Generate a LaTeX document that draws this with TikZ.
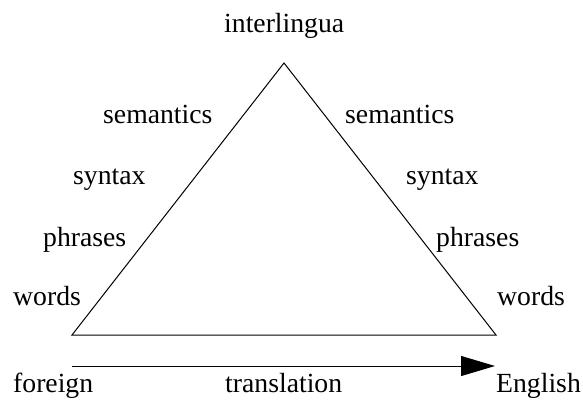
\documentclass[tikz,border=0pt]{standalone}
\usepackage{fontspec}
\setmainfont{Liberation Serif}
\usetikzlibrary{arrows.meta}
\tikzstyle{label} = [inner sep=0pt, anchor=base west, font=\fontsize{27.7}{33}\selectfont]
\tikzstyle{side} = [draw, line width=1pt, line join=miter]
\tikzstyle{line} = [draw, line width=1pt, -{Triangle[length=34pt, width=20pt]}]

\begin{document}
\begin{tikzpicture}[x=1pt, y=1pt]
		\useasboundingbox (0,0) rectangle (583,400);
		\coordinate (src) at (72,65);
		\coordinate (tgt) at (496,65);
		\coordinate (top) at (284,337);
		\coordinate (from) at (72,34);
		\coordinate (to) at (495,34);
		
		\path [side] (src) -- (top) -- (tgt) -- cycle;
		\path [line] (from) -- (to);
		
		\node [label] (inter) at (224,367) {interlingua};
		\node [label] (lsem) at (103,277) {semantics};
		\node [label] (lsyn) at (73,216) {syntax};
		\node [label] (lphr) at (43,154) {phrases};
		\node [label] (lwrd) at (13,95) {words};
		\node [label] (rsem) at (345,277) {semantics};
		\node [label] (rsyn) at (406,216) {syntax};
		\node [label] (rphr) at (436,154) {phrases};
		\node [label] (rwrd) at (497,95) {words};
		\node [label] (foreign) at (13,8) {foreign};
		\node [label] (trans) at (225,8) {translation};
		\node [label] (english) at (496,8) {English};
	\end{tikzpicture}
\end{document}
